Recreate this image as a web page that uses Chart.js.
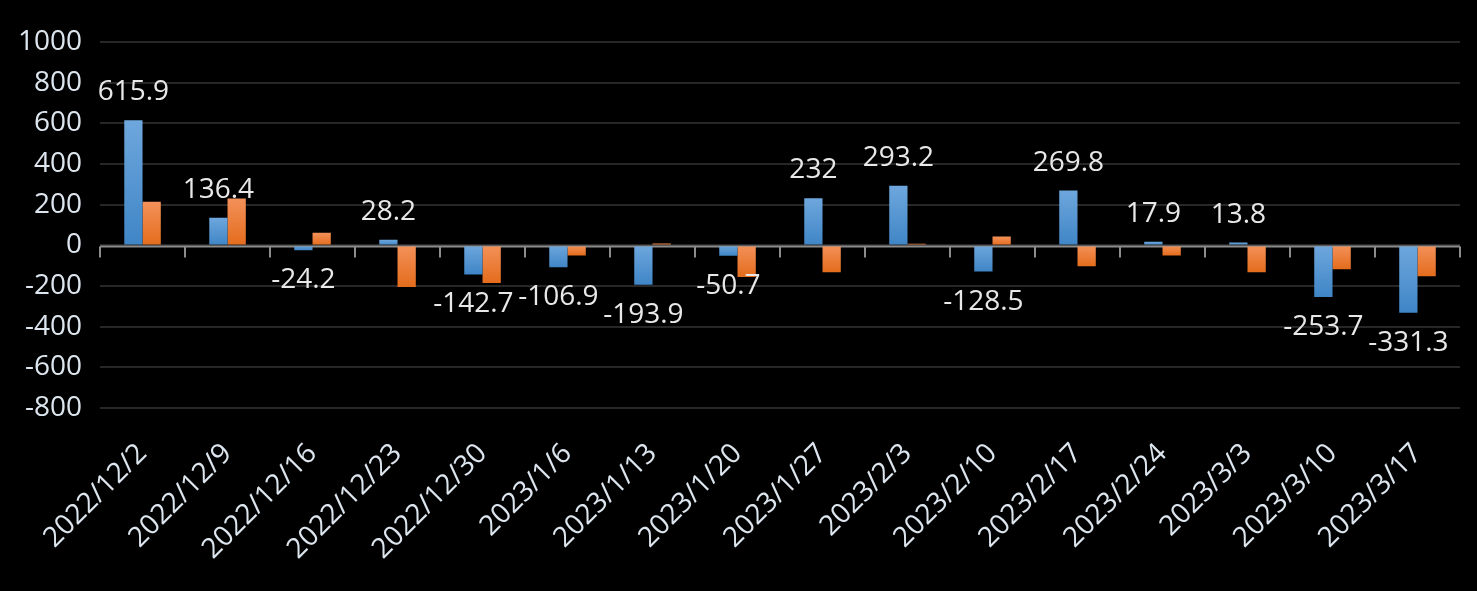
<!DOCTYPE html>
<html>
<head>
<meta charset="utf-8">
<script src="https://cdn.jsdelivr.net/npm/chart.js@4.4.0/dist/chart.umd.min.js"></script>
<style>
  html, body { margin: 0; padding: 0; background: #000; }
  #wrap { width: 1477px; height: 591px; }
</style>
</head>
<body>
<div id="wrap"><canvas id="chart"></canvas></div>
<script>
// weekly values
const dates = ['2022/12/2', '2022/12/9', '2022/12/16', '2022/12/23', '2022/12/30', '2023/1/6', '2023/1/13', '2023/1/20',
    '2023/1/27', '2023/2/3', '2023/2/10', '2023/2/17', '2023/2/24', '2023/3/3', '2023/3/10', '2023/3/17'];
const blueValues = [615.9, 136.4, -24.2, 28.2, -142.7, -106.9, -193.9, -50.7, 232, 293.2, -128.5, 269.8, 17.9, 13.8, -253.7, -331.3];
const orangeValues = [215, 231, 62, -205, -185, -49, 9, -155, -132, 8, 44, -103, -49, -132, -117, -152];
const yTicks = [-800, -600, -400, -200, 0, 200, 400, 600, 800, 1000];

const fontFamily = '"Open Sans", "Noto Sans", sans-serif';
const textColor = '#dde6ef';

// vertical gradient on each bar, lighter at the top
function barGradient(light, dark) {
    return function(context) {
        const chart = context.chart;
        if (!chart.chartArea || context.parsed === undefined) return dark;
        const y = chart.scales.y;
        const v = context.parsed.y;
        const top = y.getPixelForValue(Math.max(v, 0));
        const bottom = y.getPixelForValue(Math.min(v, 0));
        if (!isFinite(top) || !isFinite(bottom) || top === bottom) return dark;
        const g = chart.ctx.createLinearGradient(0, top, 0, bottom);
        g.addColorStop(0, light);
        g.addColorStop(1, dark);
        return g;
    };
}

// zero line with tick marks between categories
const zeroAxis = {
    id: 'zeroAxis',
    beforeDatasetsDraw(chart) {
        const { ctx, chartArea, scales } = chart;
        const y0 = scales.y.getPixelForValue(0) + 1;
        const step = (chartArea.right - chartArea.left) / dates.length;
        ctx.save();
        ctx.strokeStyle = '#8c8c8c';
        ctx.lineWidth = 2;
        ctx.beginPath();
        ctx.moveTo(chartArea.left, y0);
        ctx.lineTo(chartArea.right, y0);
        for (let i = 0; i <= dates.length; i++) {
            const x = Math.round(chartArea.left + step * i);
            ctx.moveTo(x, y0);
            ctx.lineTo(x, y0 + 11);
        }
        ctx.stroke();
        ctx.restore();
    }
};

// value labels on the blue series
const valueLabels = {
    id: 'valueLabels',
    afterDatasetsDraw(chart) {
        const { ctx } = chart;
        const meta = chart.getDatasetMeta(0);
        ctx.save();
        ctx.font = '28px ' + fontFamily;
        ctx.fillStyle = '#e8e8e8';
        ctx.textAlign = 'center';
        ctx.textBaseline = 'alphabetic';
        meta.data.forEach((bar, i) => {
            const v = blueValues[i];
            if (v >= 0) {
                ctx.fillText(String(v), bar.x, bar.y - 20);
            } else {
                ctx.fillText(String(v), bar.x, bar.y + 38);
            }
        });
        ctx.restore();
    }
};

new Chart(document.getElementById('chart'), {
    type: 'bar',
    data: {
        labels: dates,
        datasets: [
            {
                label: 'A',
                data: blueValues,
                backgroundColor: barGradient('#6ea7dd', '#3f85c6'),
                categoryPercentage: 0.43,
                barPercentage: 1.0
            },
            {
                label: 'B',
                data: orangeValues,
                backgroundColor: barGradient('#f3915a', '#e46c1c'),
                categoryPercentage: 0.43,
                barPercentage: 1.0
            }
        ]
    },
    options: {
        responsive: true,
        maintainAspectRatio: false,
        animation: false,
        layout: { padding: { left: 0, right: 17, top: 42, bottom: 4 } },
        plugins: {
            legend: { display: false },
            tooltip: { enabled: false }
        },
        scales: {
            y: {
                min: -800,
                max: 1000,
                afterBuildTicks: axis => { axis.ticks = yTicks.map(v => ({ value: v })); },
                border: { display: false },
                grid: { color: '#272727', lineWidth: 2, drawTicks: false },
                ticks: {
                    color: textColor,
                    font: { family: fontFamily, size: 28 },
                    padding: 18,
                    callback: v => String(v)
                }
            },
            x: {
                border: { display: false },
                grid: { display: false },
                ticks: {
                    color: textColor,
                    font: { family: fontFamily, size: 28 },
                    maxRotation: 45,
                    minRotation: 45,
                    autoSkip: false,
                    padding: 21
                }
            }
        }
    },
    plugins: [zeroAxis, valueLabels]
});
</script>
</body>
</html>
